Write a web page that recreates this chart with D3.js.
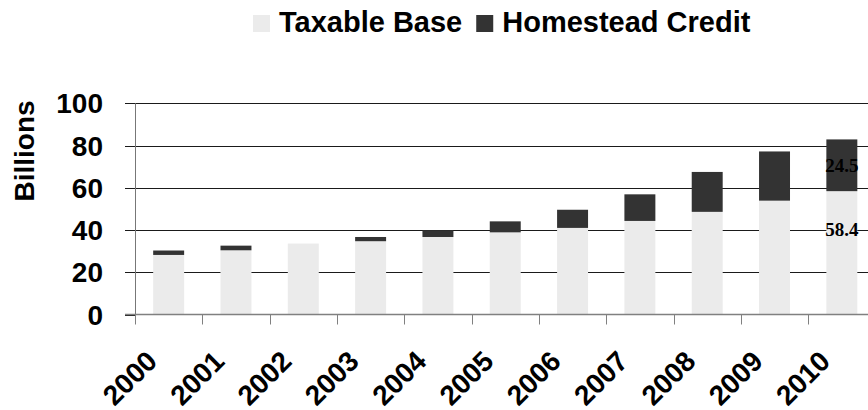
<!DOCTYPE html>
<html>
<head>
<meta charset="utf-8">
<script src="https://cdn.jsdelivr.net/npm/d3@7/dist/d3.min.js"></script>
<style>
  html, body { margin: 0; padding: 0; background: #fff; }
  svg { display: block; }
  text { font-family: "Liberation Sans", Arial, sans-serif; font-weight: bold; }
  text.serif { font-family: "Liberation Serif", "Times New Roman", serif; }
</style>
</head>
<body>
<svg id="chart" width="868" height="410"></svg>
<script>
const years = ["2000","2001","2002","2003","2004","2005","2006","2007","2008","2009","2010"];
const taxableBase = [28.2, 30.4, 33.6, 34.7, 36.7, 38.9, 41.0, 44.3, 48.6, 53.9, 58.4];
const homesteadCredit = [2.1, 2.2, 0, 2.0, 3.2, 5.2, 8.6, 12.6, 18.9, 23.3, 24.5];
const seriesNames = ["Taxable Base", "Homestead Credit"];
const seriesColors = ["#ebebeb", "#333333"];
const yTicks = [0, 20, 40, 60, 80, 100];
const labeledYear = "2010";

const svg = d3.select("#chart");

const x = d3.scaleBand().domain(years).range([135, 875.5]).paddingInner(0.54).paddingOuter(0.27);
const xTicksScale = d3.scaleBand().domain(years).range([135, 875.5]);
const y = d3.scaleLinear().domain([0, 100]).range([314.5, 103.3]);

// gridlines
svg.append("g").selectAll("line").data(yTicks.filter(d => d > 0)).join("line")
  .attr("x1", 125).attr("x2", 868)
  .attr("y1", d => Math.round(y(d)) + 0.5).attr("y2", d => Math.round(y(d)) + 0.5)
  .attr("stroke", "#1a1a1a").attr("stroke-width", 1);

// stacked data
const rows = years.map((yr, i) => ({ year: yr, base: taxableBase[i], credit: homesteadCredit[i] }));
const stack = d3.stack().keys(["base", "credit"]);
const stacked = stack(rows);

svg.append("g").selectAll("g").data(stacked).join("g")
  .attr("fill", (d, i) => seriesColors[i])
  .selectAll("rect").data(d => d.filter(s => s[1] - s[0] > 0)).join("rect")
  .attr("x", d => x(d.data.year))
  .attr("width", x.bandwidth())
  .attr("y", d => y(d[1]))
  .attr("height", d => y(d[0]) - y(d[1]));

// y axis line & ticks
svg.append("line").attr("x1", 135.5).attr("x2", 135.5).attr("y1", y(100)).attr("y2", y(0))
  .attr("stroke", "#777").attr("stroke-width", 1);
svg.append("g").selectAll("line").data(yTicks).join("line")
  .attr("x1", 125).attr("x2", 135)
  .attr("y1", d => Math.round(y(d)) + 0.5).attr("y2", d => Math.round(y(d)) + 0.5)
  .attr("stroke", "#1a1a1a");

// x axis line
svg.append("line").attr("x1", 125).attr("x2", 868).attr("y1", y(0)).attr("y2", y(0))
  .attr("stroke", "#808080").attr("stroke-width", 1.6);
// x ticks at band boundaries
svg.append("g").selectAll("line").data(years).join("line")
  .attr("x1", d => Math.round(xTicksScale(d)) + 0.5).attr("x2", d => Math.round(xTicksScale(d)) + 0.5)
  .attr("y1", y(0)).attr("y2", y(0) + 10)
  .attr("stroke", "#808080").attr("stroke-width", 1);

// y tick labels
svg.append("g").selectAll("text").data(yTicks).join("text")
  .attr("x", 103).attr("y", d => y(d)).attr("dy", "0.36em")
  .attr("text-anchor", "end").attr("font-size", 28).attr("fill", "#000")
  .text(d => d);

// y title
svg.append("text").attr("transform", "translate(34,151) rotate(-90)")
  .attr("text-anchor", "middle").attr("font-size", 28).text("Billions");

// x labels
svg.append("g").selectAll("text").data(years).join("text")
  .attr("transform", d => `translate(${x(d) + x.bandwidth() / 2 - 10},363) rotate(-45)`)
  .attr("text-anchor", "end").attr("font-size", 28).text(d => d);

// data labels for last year
const li = years.indexOf(labeledYear);
const lx = x(labeledYear) + x.bandwidth() / 2;
svg.append("text").attr("class", "serif").attr("x", lx).attr("y", y(taxableBase[li] + homesteadCredit[li] / 2)).attr("dy", "0.35em")
  .attr("text-anchor", "middle").attr("font-size", 19).text(homesteadCredit[li].toFixed(1));
svg.append("text").attr("class", "serif").attr("x", lx).attr("y", y(taxableBase[li] * 0.69)).attr("dy", "0.35em")
  .attr("text-anchor", "middle").attr("font-size", 19).text(taxableBase[li].toFixed(1));

// legend
const legend = svg.append("g");
let lxPos = 253;
seriesNames.forEach((name, i) => {
  legend.append("rect").attr("x", lxPos).attr("y", 15).attr("width", 17).attr("height", 17).attr("fill", seriesColors[i]);
  const t = legend.append("text").attr("x", lxPos + 26).attr("y", 31.5).attr("font-size", 29).text(name);
  lxPos += 26 + t.node().getComputedTextLength() + 14;
});
</script>
</body>
</html>
